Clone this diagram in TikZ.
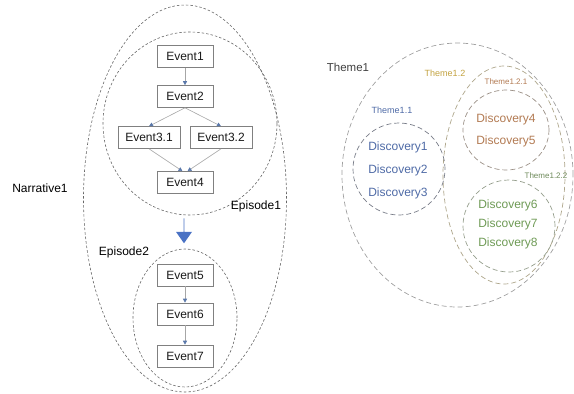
\documentclass[tikz,border=0pt]{standalone}
\usepackage{fontspec}
\setmainfont{Liberation Sans}
\usetikzlibrary{shapes.geometric,shapes.arrows,arrows.meta}

\definecolor{tipBlue}{HTML}{5A78AA}
\definecolor{shiftBlue}{HTML}{4A72C4}
\definecolor{discBlue}{HTML}{4E6AA6}
\definecolor{discBrown}{HTML}{B27A52}
\definecolor{discGreen}{HTML}{6E9A55}
\definecolor{themeGold}{HTML}{C2A240}
\definecolor{themeGreen}{HTML}{6E8A5A}
\definecolor{ringOuter}{HTML}{A0A0A0}
\definecolor{ringOlive}{HTML}{ADA58A}
\definecolor{ringBlue}{HTML}{787C88}
\definecolor{ringBrown}{HTML}{9A8F85}
\definecolor{ringGreen}{HTML}{959E8C}

\begin{document}
\begin{tikzpicture}[x=1pt, y=-1pt, font=\fontsize{12}{14}\selectfont,
	event/.style={draw=black!50, text=black!90, line width=0.6pt, minimum width=56pt, minimum height=22pt, inner sep=1pt},
	flow/.style={draw=black!35, line width=0.6pt, -{Triangle[length=4pt, width=4pt, color=tipBlue]}},
	episode/.style={ellipse, draw=black!60, dash pattern=on 2.5pt off 2pt, line width=0.6pt, inner sep=0pt},
	theme/.style={ellipse, draw=ringOuter, dash pattern=on 5pt off 3pt, line width=0.7pt, inner sep=0pt}]
	
	\useasboundingbox (0,0) rectangle (574,394);
	
	% narrative side
	\node[episode, minimum width=203pt, minimum height=387pt] (narr) at (185,198.5) {};
	\node[episode, minimum width=174pt, minimum height=183pt] (ep1) at (190,123.5) {};
	\node[episode, minimum width=104pt, minimum height=138pt] (ep2) at (185,318) {};
	
	\node (narrlabel) at (40,188) {Narrative1};
	\node (ep1label) at (256,206) {Episode1};
	\node (ep2label) at (124,252) {Episode2};
	
	\node[event] (e1) at (185,56.5) {Event1};
	\node[event] (e2) at (185,96.5) {Event2};
	\node[event, minimum width=62pt] (e31) at (149,137.5) {Event3.1};
	\node[event, minimum width=62pt] (e32) at (221,137.5) {Event3.2};
	\node[event] (e4) at (185,182.5) {Event4};
	\node[event] (e5) at (185,275) {Event5};
	\node[event] (e6) at (185,314) {Event6};
	\node[event] (e7) at (185,356) {Event7};
	
	\foreach \from / \to in {e1/e2,e5/e6,e6/e7}
		\path (\from) edge[flow] (\to);
	\foreach \to in {e31,e32}
		\path (e2.south) edge[flow] (\to.north);
	\path (e31.south) edge[flow] ([xshift=-2.5pt]e4.north);
	\path (e32.south) edge[flow] ([xshift=2.5pt]e4.north);
	
	\node[single arrow, fill=shiftBlue, shape border rotate=270, minimum height=25pt, minimum width=16pt,
		single arrow head extend=3.5pt, single arrow tip angle=70, inner sep=0pt] (shift) at (184,230.5) {};
	
	% theme side
	\node[theme, minimum width=231pt, minimum height=264pt] (t1) at (457.5,175) {};
	\node[theme, draw=ringOlive, minimum width=122pt, minimum height=218pt] (t12) at (504,175) {};
	\node[theme, draw=ringBlue, minimum width=92pt, minimum height=92pt] (t11) at (399,169) {};
	\node[theme, draw=ringBrown, minimum width=86pt, minimum height=80pt] (t121) at (506,130) {};
	\node[theme, draw=ringGreen, minimum width=92pt, minimum height=92pt] (t122) at (509,226) {};
	
	\node[text=black!75, font=\fontsize{11.5}{13}\selectfont] (t1label) at (348,67) {Theme1};
	\node[text=themeGold, font=\fontsize{9}{11}\selectfont] (t12label) at (445,73) {Theme1.2};
	\node[text=discBlue, font=\fontsize{9}{11}\selectfont] (t11label) at (392,110) {Theme1.1};
	\node[text=discBrown, font=\fontsize{8}{10}\selectfont] (t121label) at (506,82) {Theme1.2.1};
	\node[text=themeGreen, font=\fontsize{8}{10}\selectfont] (t122label) at (546,176) {Theme1.2.2};
	
	\node[text=discBlue] (d1) at (398,147) {Discovery1};
	\node[text=discBlue] (d2) at (398,170) {Discovery2};
	\node[text=discBlue] (d3) at (398,193) {Discovery3};
	\node[text=discBrown] (d4) at (506,119) {Discovery4};
	\node[text=discBrown] (d5) at (506,141) {Discovery5};
	\node[text=discGreen] (d6) at (508,205) {Discovery6};
	\node[text=discGreen] (d7) at (508,224) {Discovery7};
	\node[text=discGreen] (d8) at (508,243) {Discovery8};
\end{tikzpicture}
\end{document}
